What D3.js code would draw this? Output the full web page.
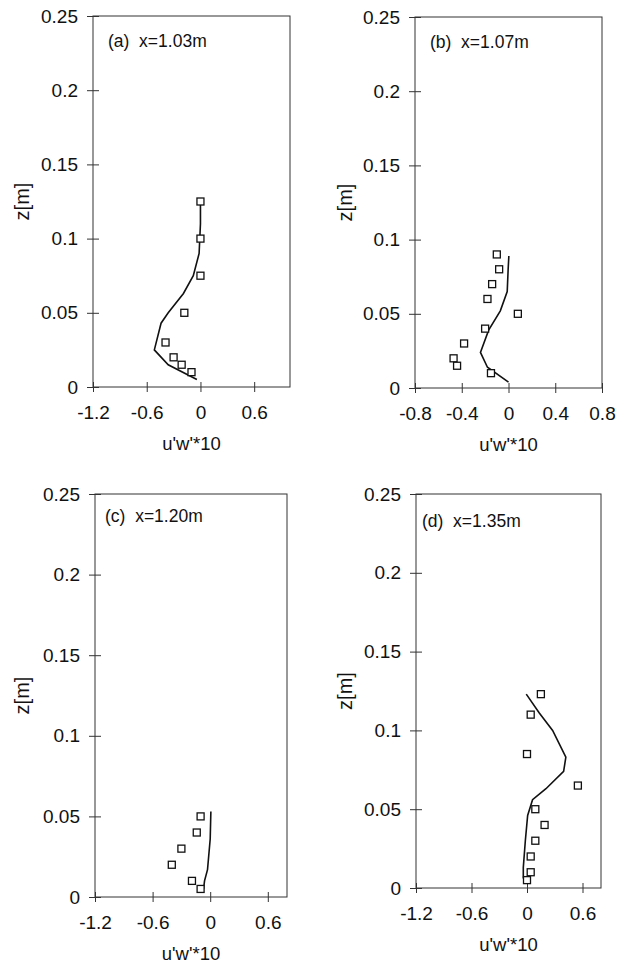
<!DOCTYPE html>
<html>
<head>
<meta charset="utf-8">
<script src="https://cdn.jsdelivr.net/npm/d3@7"></script>
<style>
  body { margin: 0; background: #fff; }
  text { font-family: "Liberation Sans", Arial, sans-serif; fill: #111; }
</style>
</head>
<body>
<script>
// values
const zTicks = [0, 0.05, 0.1, 0.15, 0.2, 0.25];
const uTicksWide = [-1.2, -0.6, 0, 0.6];
const uTicksB = [-0.8, -0.4, 0, 0.4, 0.8];
const panelTitles = ["(a)  x=1.03m", "(b)  x=1.07m", "(c)  x=1.20m", "(d)  x=1.35m"];

// (a) x=1.03m
const aMeasU = [0, 0, 0, -0.18, -0.39, -0.3, -0.21, -0.1];
const aMeasZ = [0.125, 0.1, 0.075, 0.05, 0.03, 0.02, 0.015, 0.01];
const aModelU = [0, 0, -0.015, -0.08, -0.19, -0.36, -0.44, -0.515, -0.36, -0.04];
const aModelZ = [0.125, 0.11, 0.09, 0.075, 0.063, 0.05, 0.043, 0.025, 0.015, 0.005];

// (b) x=1.07m
const bMeasU = [-0.1, -0.08, -0.14, -0.18, 0.08, -0.2, -0.38, -0.47, -0.44, -0.15];
const bMeasZ = [0.09, 0.08, 0.07, 0.06, 0.05, 0.04, 0.03, 0.02, 0.015, 0.01];
const bModelU = [0.003, -0.003, -0.011, -0.07, -0.17, -0.24, -0.18, 0];
const bModelZ = [0.089, 0.08, 0.065, 0.052, 0.039, 0.024, 0.014, 0.004];

// (c) x=1.20m
const cMeasU = [-0.1, -0.14, -0.3, -0.4, -0.19, -0.1];
const cMeasZ = [0.05, 0.04, 0.03, 0.02, 0.01, 0.005];
const cModelU = [0.007, 0, -0.028, -0.059, -0.069];
const cModelZ = [0.053, 0.036, 0.017, 0.01, 0.005];

// (d) x=1.35m
const dMeasU = [0.15, 0.04, 0, 0.55, 0.09, 0.19, 0.09, 0.04, 0.04, 0];
const dMeasZ = [0.123, 0.11, 0.085, 0.065, 0.05, 0.04, 0.03, 0.02, 0.01, 0.005];
const dModelU = [-0.008, 0.133, 0.277, 0.42, 0.396, 0.205, 0.06, 0.007, -0.018, -0.04, -0.04];
const dModelZ = [0.123, 0.111, 0.1, 0.083, 0.074, 0.063, 0.056, 0.046, 0.03, 0.013, 0.006];

const W = 618, H = 965;
const svg = d3.select("body").append("svg")
  .attr("width", W)
  .attr("height", H);

const panels = [
  {box: [93, 290, 16, 387], dom: [-1.2, 1.0], ticks: uTicksWide, title: panelTitles[0], tdx: 15, tby: 47,
   mu: aMeasU, mz: aMeasZ, lu: aModelU, lz: aModelZ, yl: 22},
  {box: [415, 602, 17, 388], dom: [-0.8, 0.8], ticks: uTicksB, title: panelTitles[1], tdx: 15, tby: 48,
   mu: bMeasU, mz: bMeasZ, lu: bModelU, lz: bModelZ, yl: 345},
  {box: [95, 287, 494, 897], dom: [-1.2, 0.8], ticks: uTicksWide, title: panelTitles[2], tdx: 10, tby: 522,
   mu: cMeasU, mz: cMeasZ, lu: cModelU, lz: cModelZ, yl: 22},
  {box: [416, 601, 494, 888], dom: [-1.2, 0.8], ticks: uTicksWide, title: panelTitles[3], tdx: 6, tby: 527,
   mu: dMeasU, mz: dMeasZ, lu: dModelU, lz: dModelZ, yl: 345}
];

panels.forEach(p => {
  const [x0, x1, y0, y1] = p.box;
  const x = d3.scaleLinear().domain(p.dom).range([x0, x1]);
  const y = d3.scaleLinear().domain([0, 0.25]).range([y1, y0]);
  const g = svg.append("g");

  // frame
  g.append("rect")
    .attr("x", x0).attr("y", y0)
    .attr("width", x1 - x0).attr("height", y1 - y0)
    .attr("fill", "none").attr("stroke", "#333").attr("stroke-width", 1);

  const yAxis = g.append("g")
    .attr("transform", `translate(${x0},0)`)
    .call(d3.axisLeft(y).tickValues(zTicks).tickSize(6).tickPadding(9).tickFormat(d => String(d)));
  const xAxis = g.append("g")
    .attr("transform", `translate(0,${y1})`)
    .call(d3.axisBottom(x).tickValues(p.ticks).tickSize(5).tickPadding(14).tickFormat(d => String(d)));

  [yAxis, xAxis].forEach(ax => {
    ax.select(".domain").remove();
    ax.selectAll("line").attr("stroke", "#333");
    ax.selectAll("text").style("font-size", "19px").attr("fill", "#111")
      .style("font-family", "'Liberation Sans', Arial, sans-serif");
  });
  // ticks cross the axis line
  yAxis.selectAll(".tick line").attr("x1", 6);
  xAxis.selectAll(".tick line").attr("y1", -5);

  // axis titles
  g.append("text")
    .attr("transform", `translate(${p.yl + 7},${(y0 + y1) / 2}) rotate(-90)`)
    .attr("text-anchor", "middle")
    .style("font-size", "20px")
    .text("z[m]");
  g.append("text")
    .attr("x", (x0 + x1) / 2)
    .attr("y", y1 + 63)
    .attr("text-anchor", "middle")
    .style("font-size", "18.5px")
    .text("u'w'*10");

  g.append("text")
    .attr("x", x0 + p.tdx)
    .attr("y", p.tby)
    .attr("xml:space", "preserve")
    .style("font-size", "17.5px")
    .text(p.title);

  // model profile
  const line = d3.line()
    .x(i => x(p.lu[i]))
    .y(i => y(p.lz[i]));
  g.append("path")
    .attr("d", line(d3.range(p.lu.length)))
    .attr("fill", "none")
    .attr("stroke", "#111")
    .attr("stroke-width", 1.6);

  // measured points
  const s = 7;
  g.selectAll(".pt")
    .data(d3.range(p.mu.length))
    .enter()
    .append("rect")
    .attr("class", "pt")
    .attr("x", i => x(p.mu[i]) - s / 2)
    .attr("y", i => y(p.mz[i]) - s / 2)
    .attr("width", s).attr("height", s)
    .attr("fill", "#fff")
    .attr("stroke", "#111")
    .attr("stroke-width", 1.3);
});
</script>
</body>
</html>
